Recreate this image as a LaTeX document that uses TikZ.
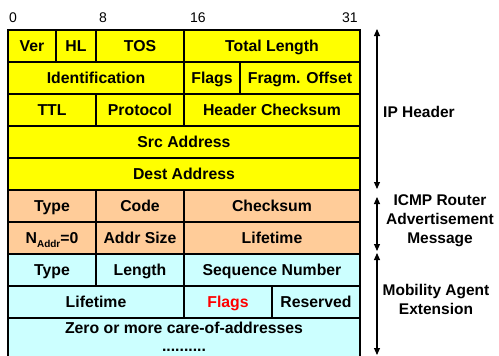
\documentclass[tikz,border=0pt]{standalone}
\usepackage{fontspec}
\setmainfont{Liberation Sans}
\usetikzlibrary{calc,arrows.meta}

\definecolor{ipyel}{HTML}{FFFF00}
\definecolor{icmporange}{HTML}{FFCC99}
\definecolor{extcyan}{HTML}{CCFFFF}

\begin{document}
\begin{tikzpicture}[x=1pt,y=-1pt,
  cell/.style={draw,line width=1.2pt},
  celltext/.style={font=\fontsize{15.8}{18}\selectfont\bfseries,inner sep=0pt,text height=11.3pt,text depth=0pt},
  bitno/.style={font=\fontsize{14}{16}\selectfont,inner sep=0pt},
  sidetext/.style={font=\fontsize{15.5}{19}\selectfont\bfseries,align=center,inner sep=0pt},
  span/.style={line width=1.1pt,{Triangle[width=6pt,length=7pt]}-{Triangle[width=6pt,length=7pt]}}]

\useasboundingbox (0,0) rectangle (499,356);

% bit numbers
\node[bitno] (b0) at (13,18) {0};
\node[bitno] (b8) at (103,18) {8};
\node[bitno] (b16) at (198,18) {16};
\node[bitno] (b31) at (350,18) {31};

% IP header
\foreach \n/\xa/\ya/\xb/\yb/\t in {
  ver/8/30/56/62/Ver, hl/56/30/96/62/HL, tos/96/30/184/62/TOS, totlen/184/30/360/62/Total Length,
  ident/8/62/184/94/Identification, ipflags/184/62/240/94/Flags, fragoff/240/62/360/94/Fragm. Offset,
  ttl/8/94/96/126/TTL, proto/96/94/184/126/Protocol, hdrsum/184/94/360/126/Header Checksum,
  src/8/126/360/158/Src Address,
  dest/8/158/360/190/Dest Address} {
  \draw[cell,fill=ipyel] (\xa,\ya) rectangle (\xb,\yb);
  \node[celltext] (\n) at ($(\xa,\ya)!0.5!(\xb,\yb)$) {\t};
}

% ICMP router advertisement
\foreach \n/\xa/\ya/\xb/\yb/\t in {
  icmptype/8/190/96/222/Type, code/96/190/184/222/Code, icmpsum/184/190/360/222/Checksum,
  naddr/8/222/96/254/{N\raisebox{-0.45ex}{\fontsize{10}{10}\selectfont Addr}=0},
  addrsize/96/222/184/254/Addr Size, icmplife/184/222/360/254/Lifetime} {
  \draw[cell,fill=icmporange] (\xa,\ya) rectangle (\xb,\yb);
  \node[celltext] (\n) at ($(\xa,\ya)!0.5!(\xb,\yb)$) {\t};
}

% mobility agent extension
\foreach \n/\xa/\ya/\xb/\yb/\t in {
  exttype/8/254/96/286/Type, extlen/96/254/184/286/Length, seqno/184/254/360/286/Sequence Number,
  extlife/8/286/184/318/Lifetime, reserved/272/286/360/318/Reserved} {
  \draw[cell,fill=extcyan] (\xa,\ya) rectangle (\xb,\yb);
  \node[celltext] (\n) at ($(\xa,\ya)!0.5!(\xb,\yb)$) {\t};
}
\draw[cell,fill=extcyan] (184,286) rectangle (272,318);
\node[celltext,text=red] (extflags) at (228,302) {Flags};
\draw[cell,fill=extcyan] (8,318) rectangle (360,364);
\node[celltext] (coa) at (184,328) {Zero or more care-of-addresses};
\node[celltext,anchor=base] (dots) at (184,351) {..........};

% spans
\coordinate (iptop) at (377,29);
\coordinate (ipbot) at (377,189);
\coordinate (icmptop) at (377,197);
\coordinate (icmpbot) at (377,251);
\coordinate (exttop) at (377,253);
\coordinate (extbot) at (377,355);
\draw[span] (iptop) -- (ipbot);
\draw[span] (icmptop) -- (icmpbot);
\draw[span] (exttop) -- (extbot);

\node[sidetext,anchor=west] (iplab) at (383,112) {IP Header};
\node[sidetext] (icmplab) at (440,221) {ICMP Router\\Advertisement\\Message};
\node[sidetext] (extlab) at (436,299) {Mobility Agent\\Extension};

\end{tikzpicture}
\end{document}
